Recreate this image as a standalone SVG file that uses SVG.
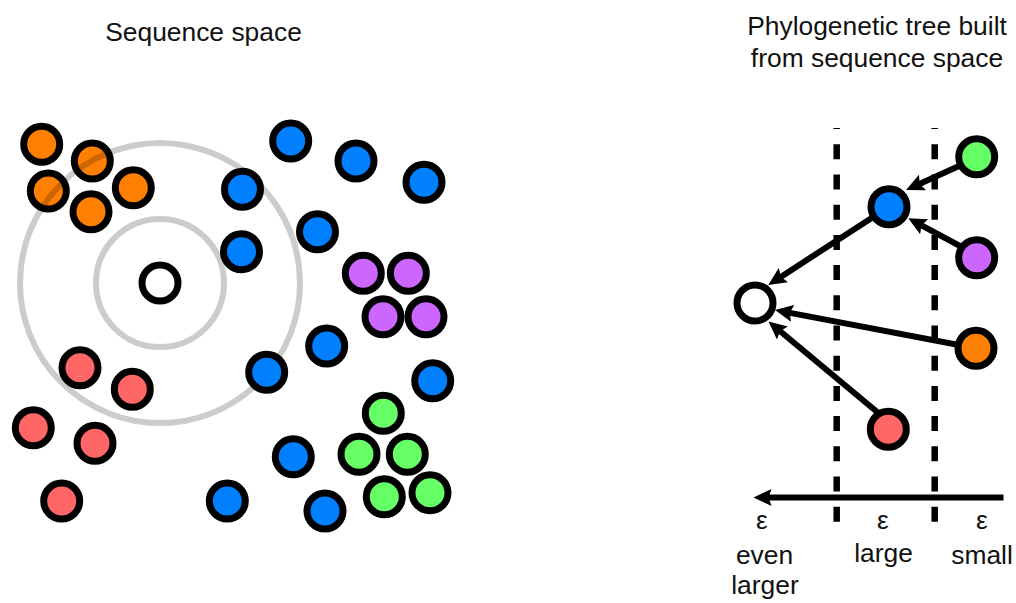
<svg xmlns="http://www.w3.org/2000/svg" width="1016" height="603" viewBox="0 0 1016 603">
<defs>
<style>
.t{font-family:"Liberation Sans",Arial,sans-serif;font-size:26.4px;fill:#111}
.n{stroke:#000;stroke-width:7}
.o{fill:#ff8000}.b{fill:#0080ff}.p{fill:#cc66ff}.g{fill:#66ff66}.r{fill:#ff6666}.w{fill:#fff}
.ring{fill:none;stroke:#000;stroke-opacity:0.2;stroke-width:6}
.e{stroke:#000;stroke-width:6;fill:none;marker-end:url(#ah)}
.d{stroke:#000;stroke-width:6.5;stroke-dasharray:15 15.2;stroke-dashoffset:13.9}
</style>
<marker id="ah" markerUnits="userSpaceOnUse" markerWidth="20" markerHeight="20" viewBox="0 -10 20 20" refX="4" refY="0" orient="auto">
<path d="M0,-8.5 L18,0 L0,8.5 L3,0 Z" fill="#000"/>
</marker>
</defs>
<rect width="1016" height="603" fill="#fff"/>
<text class="t" x="203.5" y="41" text-anchor="middle">Sequence space</text>
<text class="t" x="877" y="35" text-anchor="middle">Phylogenetic tree built</text>
<text class="t" x="877" y="67" text-anchor="middle">from sequence space</text>

<g id="orange-cluster">
<g id="o1"><circle class="n o" cx="41.7" cy="144.3" r="18"/></g>
<g id="o2"><circle class="n o" cx="92.3" cy="161" r="18"/></g>
<g id="o3"><circle class="n o" cx="48.3" cy="191" r="18"/></g>
<g id="o4"><circle class="n o" cx="133.3" cy="187.7" r="18"/></g>
<g id="o5"><circle class="n o" cx="91" cy="211.7" r="18"/></g>
</g>
<g id="rings">
<circle class="ring" cx="160" cy="283" r="140"/>
<circle class="ring" cx="160" cy="283" r="64"/>
</g>
<g id="center"><circle class="n w" cx="160" cy="283" r="18"/></g>
<g id="red-cluster">
<g id="r1"><circle class="n r" cx="80" cy="367.7" r="18"/></g>
<g id="r2"><circle class="n r" cx="132.3" cy="389.3" r="18"/></g>
<g id="r3"><circle class="n r" cx="33.3" cy="427.7" r="18"/></g>
<g id="r4"><circle class="n r" cx="95" cy="443.3" r="18"/></g>
<g id="r5"><circle class="n r" cx="61.7" cy="501" r="18"/></g>
</g>
<g id="blue-points">
<g id="b1"><circle class="n b" cx="290.7" cy="141" r="18"/></g>
<g id="b2"><circle class="n b" cx="356" cy="161" r="18"/></g>
<g id="b3"><circle class="n b" cx="424" cy="182.3" r="18"/></g>
<g id="b4"><circle class="n b" cx="242.5" cy="189.3" r="18"/></g>
<g id="b5"><circle class="n b" cx="317.5" cy="231.7" r="18"/></g>
<g id="b6"><circle class="n b" cx="241.5" cy="251.7" r="18"/></g>
<g id="b7"><circle class="n b" cx="326.7" cy="346" r="18"/></g>
<g id="b8"><circle class="n b" cx="266.7" cy="372.3" r="18"/></g>
<g id="b9"><circle class="n b" cx="432.7" cy="380.7" r="18"/></g>
<g id="b10"><circle class="n b" cx="293.3" cy="456.7" r="18"/></g>
<g id="b11"><circle class="n b" cx="227.3" cy="501" r="18"/></g>
<g id="b12"><circle class="n b" cx="325" cy="511" r="18"/></g>
</g>
<g id="purple-cluster">
<g id="p1"><circle class="n p" cx="363.3" cy="273.3" r="18"/></g>
<g id="p2"><circle class="n p" cx="408.3" cy="273.3" r="18"/></g>
<g id="p3"><circle class="n p" cx="383" cy="316.7" r="18"/></g>
<g id="p4"><circle class="n p" cx="426" cy="316.7" r="18"/></g>
</g>
<g id="green-cluster">
<g id="g1"><circle class="n g" cx="383.3" cy="413.3" r="18"/></g>
<g id="g2"><circle class="n g" cx="359" cy="454.3" r="18"/></g>
<g id="g3"><circle class="n g" cx="407.3" cy="454.3" r="18"/></g>
<g id="g4"><circle class="n g" cx="384.3" cy="496.7" r="18"/></g>
<g id="g5"><circle class="n g" cx="430" cy="492.7" r="18"/></g>
</g>

<g id="dividers">
<line class="d" x1="836.7" y1="128" x2="836.7" y2="522"/>
<line class="d" x1="934.7" y1="128" x2="934.7" y2="522"/>
</g>
<g id="connectors">
<line class="e" x1="976.7" y1="158" x2="918.8" y2="184.2"/>
<line class="e" x1="976.7" y1="255" x2="920.6" y2="224.9"/>
<line class="e" x1="889" y1="206.7" x2="780" y2="277.4"/>
<line class="e" x1="976" y1="348.3" x2="788.7" y2="312.6"/>
<line class="e" x1="888" y1="421" x2="779.3" y2="330.5"/>
<line class="e" x1="1003.5" y1="497.5" x2="767.5" y2="497.5"/>
</g>
<g id="tree-nodes">
<g id="t-root"><circle class="n w" cx="755" cy="303" r="18"/></g>
<g id="t-blue"><circle class="n b" cx="889" cy="206.7" r="18"/></g>
<g id="t-green"><circle class="n g" cx="976.7" cy="156.7" r="18"/></g>
<g id="t-purple"><circle class="n p" cx="976.7" cy="257.7" r="18"/></g>
<g id="t-orange"><circle class="n o" cx="976" cy="348.3" r="18"/></g>
<g id="t-red"><circle class="n r" cx="888.3" cy="429.3" r="18"/></g>
</g>
<g id="axis-labels">
<text class="t" x="762" y="528.5" text-anchor="middle">ε</text>
<text class="t" x="883" y="528.5" text-anchor="middle">ε</text>
<text class="t" x="982" y="528.5" text-anchor="middle">ε</text>
<text class="t" x="764.5" y="563.5" text-anchor="middle">even</text>
<text class="t" x="765" y="594" text-anchor="middle">larger</text>
<text class="t" x="883.5" y="562" text-anchor="middle">large</text>
<text class="t" x="982" y="563.5" text-anchor="middle">small</text>
</g>
</svg>
